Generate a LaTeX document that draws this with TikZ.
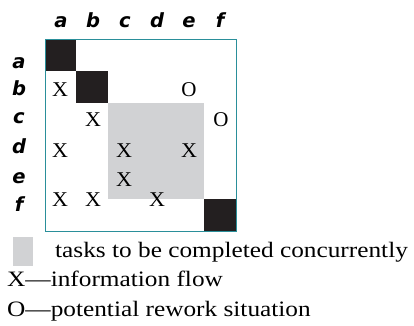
\documentclass[tikz,border=0pt]{standalone}
\usepackage{fontspec}
\setmainfont{Liberation Serif}
\newfontfamily\hdrfont{DejaVu Sans}
\definecolor{frame}{HTML}{2A8F9A}
\definecolor{conc}{HTML}{D1D2D4}
\definecolor{blk}{HTML}{231F20}
\newcommand{\wide}[2]{\scalebox{#1}[1]{#2}}
\begin{document}
\begin{tikzpicture}[x=1pt,y=-1pt,
  hdr/.style={font=\hdrfont\bfseries\itshape\fontsize{19.5}{19.5}\selectfont, inner sep=0pt, anchor=base},
  entry/.style={font=\fontsize{21}{21}\selectfont, inner sep=0pt, anchor=base},
  legend/.style={font=\fontsize{22}{22}\selectfont, inner sep=0pt, anchor=base west}]
\useasboundingbox (0,0) rectangle (414,325);
% concurrent block and diagonal
\fill[conc] (108,103) rectangle (204,199);
\fill[blk] (45,39) rectangle (76,71);
\fill[blk] (76,71) rectangle (108,103);
\fill[blk] (204,199) rectangle (236,231);
\draw[frame, line width=1pt] (45,39) rectangle (236,231);
% column headers
\foreach \n/\x in {a/61,b/93,c/125,d/157,e/189,f/220}
  \node[hdr] (col\n) at (\x,27) {\n};
% row headers
\foreach \n/\y in {a/68,b/95,c/123,d/153,e/183,f/211}
  \node[hdr] (row\n) at (19,\y) {\n};
% entries
\node[entry] (ba) at (60,96) {\wide{1.05}{X}};
\node[entry] (be) at (189,96) {O};
\node[entry] (cb) at (93,126) {\wide{1.05}{X}};
\node[entry] (cf) at (221,126) {O};
\node[entry] (da) at (60,157) {\wide{1.05}{X}};
\node[entry] (dc) at (124,157) {\wide{1.05}{X}};
\node[entry] (de) at (189,157) {\wide{1.05}{X}};
\node[entry] (ec) at (124,186) {\wide{1.05}{X}};
\node[entry] (fa) at (60,206) {\wide{1.05}{X}};
\node[entry] (fb) at (93,206) {\wide{1.05}{X}};
\node[entry] (fd) at (157,206) {\wide{1.05}{X}};
% legend
\fill[conc] (13,237) rectangle (33,266) coordinate (legsw);
\node[legend] (leg1) at (55,257) {\wide{1.15}{tasks to be completed concurrently}};
\node[legend] (leg2) at (7,286) {\wide{1.15}{X---information flow}};
\node[legend] (leg3) at (7,316) {\wide{1.15}{O---potential rework situation}};
\end{tikzpicture}
\end{document}
